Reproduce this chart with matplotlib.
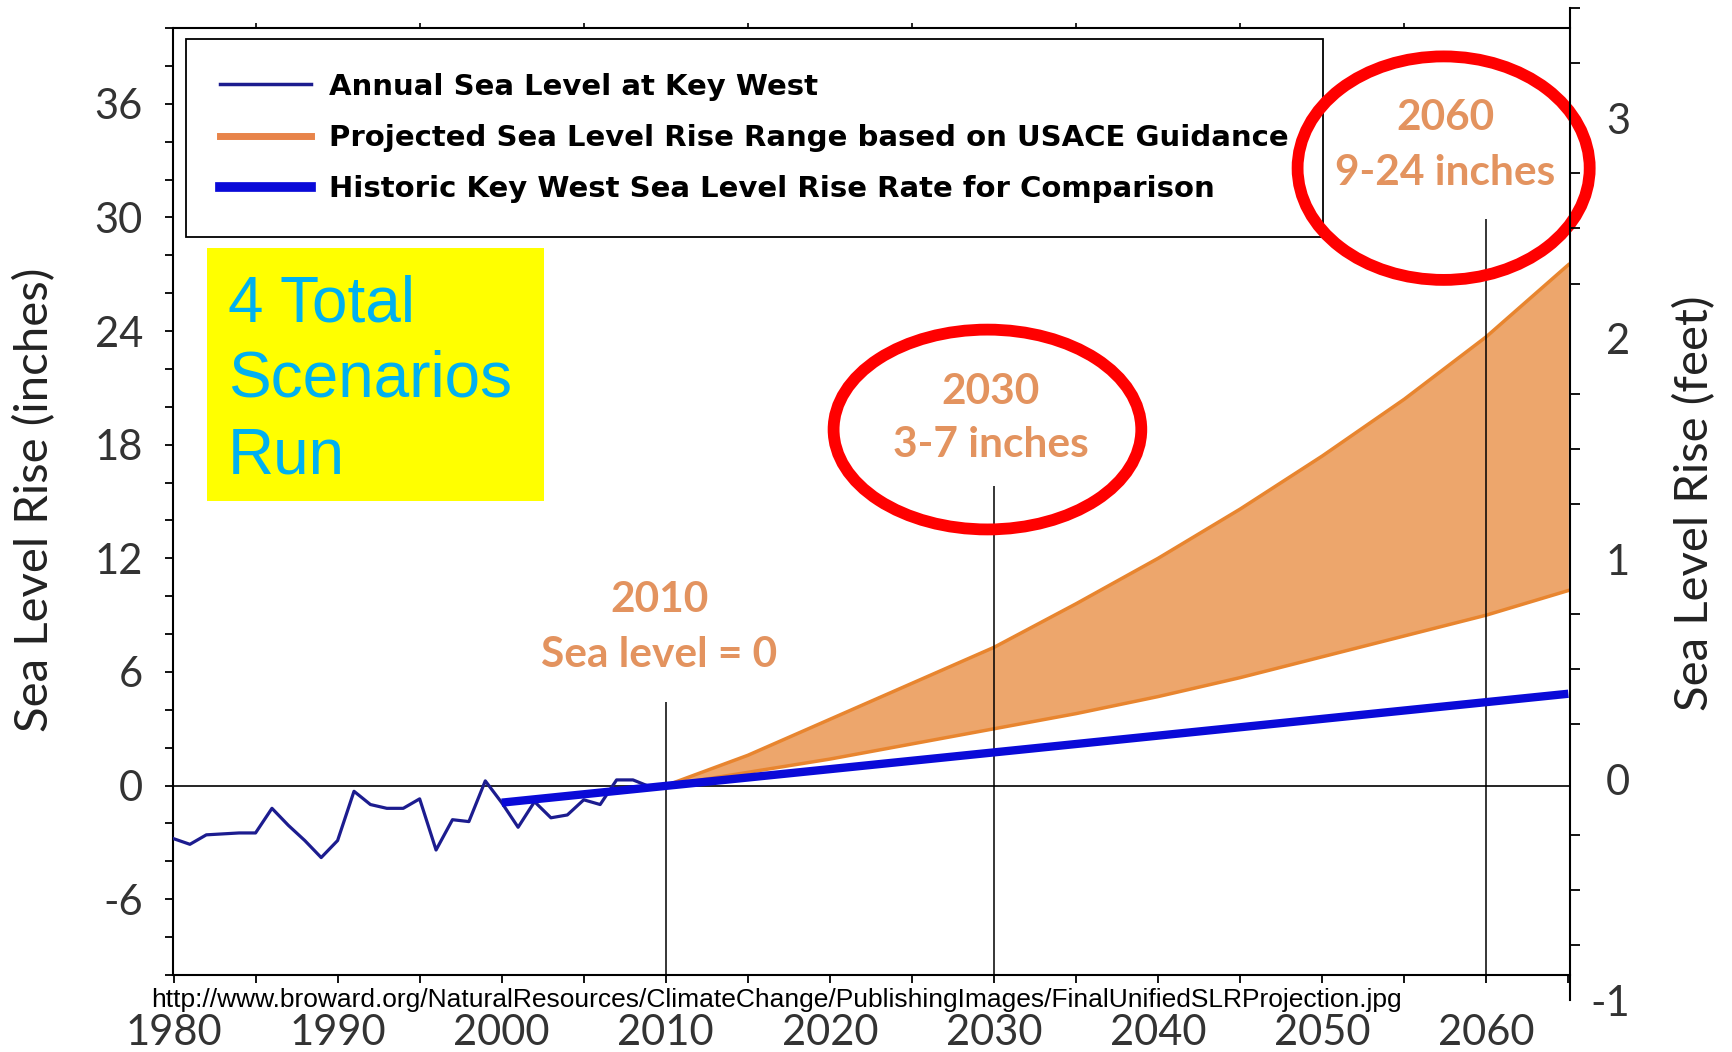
import matplotlib
matplotlib.use('Agg')
import matplotlib.pyplot as plt
from matplotlib.patches import Ellipse, Rectangle
from matplotlib.lines import Line2D
from matplotlib.ticker import MultipleLocator, FixedLocator

plt.rcParams['axes.unicode_minus'] = False

# observed annual sea level at Key West (inches, relative to 2010)
obs_years = list(range(1980, 2011))
obs_inches = [-2.8, -3.1, -2.6, -2.55, -2.5, -2.5, -1.2, -2.1, -2.9, -3.8,
              -2.9, -0.3, -1.0, -1.2, -1.2, -0.7, -3.4, -1.8, -1.9, 0.25,
              -0.9, -2.2, -0.85, -1.7, -1.55, -0.75, -1.0, 0.3, 0.3, -0.05, 0.0]

# USACE projected range (inches)
proj_years = [2010, 2015, 2020, 2025, 2030, 2035, 2040, 2045, 2050, 2055, 2060, 2065]
proj_low = [0, 0.7, 1.4, 2.2, 3.0, 3.8, 4.7, 5.7, 6.8, 7.9, 9.0, 10.3]
proj_high = [0, 1.6, 3.5, 5.4, 7.3, 9.6, 12.0, 14.6, 17.4, 20.4, 23.7, 27.5]

# historic rate trend line
hist_years = [2000, 2065]
hist_inches = [-0.9, 4.85]

# marker years with label text
mark_years = [2010, 2030, 2060]
mark_tops = [4.4, 15.8, 29.9]

legend_labels = ['Annual Sea Level at Key West',
                 'Projected Sea Level Rise Range based on USACE Guidance',
                 'Historic Key West Sea Level Rise Rate for Comparison']

c_obs = '#1c1c8f'
c_hist = '#0a0ad8'
c_band = '#eda66c'
c_band_edge = '#e8852f'
c_note = '#e3935f'
c_tick = '#333333'

W, H = 1733, 1052
fig = plt.figure(figsize=(W / 100, H / 100), dpi=100)
ax = fig.add_axes([173.5 / W, 1 - 975 / H, (1570 - 173.5) / W, (975 - 28) / H])

ax.fill_between(proj_years, proj_low, proj_high, color=c_band, lw=0, zorder=2, clip_on=False)
ax.plot(proj_years, proj_low, color=c_band_edge, lw=2.5, zorder=2.5, clip_on=False)
ax.plot(proj_years, proj_high, color=c_band_edge, lw=2.5, zorder=2.5, clip_on=False)
ax.axhline(0, color='black', lw=1.2, zorder=1.5)
ax.vlines(mark_years, -10, mark_tops, color='black', lw=1.1, zorder=3)
ax.plot(obs_years, obs_inches, color=c_obs, lw=2.3, zorder=4)
ax.plot(hist_years, hist_inches, color=c_hist, lw=6, zorder=5, solid_capstyle='butt')

ax.set_xlim(1980, 2065.1)
ax.set_ylim(-10, 40)

ax.set_xticks(range(1980, 2061, 10))
ax.xaxis.set_minor_locator(MultipleLocator(5))
ax.set_yticks(range(-6, 37, 6))
ax.yaxis.set_minor_locator(MultipleLocator(2))
ax.tick_params(axis='both', which='both', direction='out', length=6, width=1.3, colors='black')
ax.tick_params(axis='x', which='major', pad=22, labelsize=30, labelcolor=c_tick)
ax.tick_params(axis='y', which='major', pad=16, labelsize=30, labelcolor=c_tick)
for lab in ax.get_xticklabels() + ax.get_yticklabels():
    lab.set_family('Lato')

# small ticks along the top
sec = ax.secondary_xaxis('top')
sec.set_xticks(range(1985, 2060, 10))
sec.tick_params(length=3.5, width=1.2, labeltop=False)
sec.spines['top'].set_visible(False)

for s in ax.spines.values():
    s.set_linewidth(1.5)
ax.spines['right'].set_visible(False)

# right axis in feet
ax2 = fig.add_axes([1570 / W, 1 - 1000 / H, 0.0001, (1000 - 8) / H])
ax2.patch.set_visible(False)
for k in ['left', 'top', 'bottom']:
    ax2.spines[k].set_visible(False)
ax2.spines['right'].set_linewidth(1.5)
ax2.set_ylim(-1, 3.5)
ax2.set_xticks([])
ax2.yaxis.tick_right()
ax2.yaxis.set_major_locator(FixedLocator([-1, 0, 1, 2, 3]))
ax2.yaxis.set_minor_locator(MultipleLocator(0.25))
ax2.tick_params(axis='y', which='major', length=0, pad=43, labelsize=30, labelcolor=c_tick)
ax2.tick_params(axis='y', which='minor', length=7, width=1.3, direction='out')
for lab in ax2.get_yticklabels():
    lab.set_family('Lato')
    lab.set_ha('right')

fig.text(35 / W, 1 - 500 / H, 'Sea Level Rise (inches)', rotation=90, ha='center', va='center',
         fontsize=34, family='Lato', color='#222222')
fig.text(1695 / W, 1 - 503 / H, 'Sea Level Rise (feet)', rotation=90, ha='center', va='center',
         fontsize=34, family='Lato', color='#222222')

# legend
handles = [Line2D([], [], color=c_obs, lw=2.5),
           Line2D([], [], color='#e8844a', lw=5),
           Line2D([], [], color=c_hist, lw=7)]
leg = ax.legend(handles, legend_labels, loc='upper left', bbox_to_anchor=(186 / W, 1 - 39 / H),
                bbox_transform=fig.transFigure, borderaxespad=0, fancybox=False, framealpha=1,
                edgecolor='black', prop={'family': 'DejaVu Sans', 'weight': 'bold', 'size': 21},
                handlelength=3.15, handletextpad=0.62, labelspacing=0.8, borderpad=1.15)
leg.get_frame().set_linewidth(1.3)
leg.set_zorder(6)

# annotations
notes = [(2009.6, 9.8, '2010'), (2009.6, 6.9, 'Sea level = 0'),
         (2029.8, 20.8, '2030'), (2029.8, 18.0, '3-7 inches'),
         (2057.5, 35.25, '2060'), (2057.5, 32.35, '9-24 inches')]
for x, y, t in notes:
    ax.text(x, y, t, ha='center', va='center', fontsize=30.5, family='Lato', weight='bold',
            color=c_note, zorder=7, clip_on=False)

ax.add_patch(Ellipse((2029.6, 18.8), 18.75, 10.55, fill=False, ec='red', lw=8.5, zorder=8, clip_on=False))
ax.add_patch(Ellipse((2057.4, 32.6), 17.8, 11.8, fill=False, ec='red', lw=8.5, zorder=8, clip_on=False))

# yellow callout box
fig.patches.append(Rectangle((207 / W, 1 - 501 / H), 337 / W, 253 / H, transform=fig.transFigure,
                             facecolor='#ffff00', edgecolor='none', zorder=9))
for yb, t in [(322, '4 Total'), (397, 'Scenarios'), (473, 'Run')]:
    fig.text(228 / W, 1 - yb / H, t, ha='left', va='baseline', fontsize=46,
             family='Liberation Sans', color='#00b0f0', zorder=10)

fig.text(151 / W, 1 - 1000 / H,
         'http://www.broward.org/NaturalResources/ClimateChange/PublishingImages/FinalUnifiedSLRProjection.jpg',
         ha='left', va='center', fontsize=19, family='Liberation Sans', color='black', zorder=10)

fig.savefig('out.png', dpi=100, facecolor='white')
